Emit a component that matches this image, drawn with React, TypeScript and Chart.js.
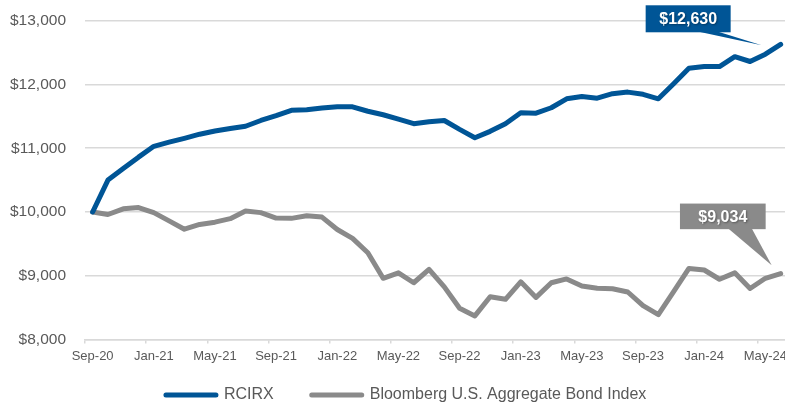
import React, { useEffect, useRef } from 'react';
import { Chart, registerables } from 'chart.js';

Chart.register(...registerables);

// ---- data ----
const months = [
  'Sep-20', 'Oct-20', 'Nov-20', 'Dec-20',
  'Jan-21', 'Feb-21', 'Mar-21', 'Apr-21', 'May-21', 'Jun-21', 'Jul-21', 'Aug-21', 'Sep-21', 'Oct-21', 'Nov-21', 'Dec-21',
  'Jan-22', 'Feb-22', 'Mar-22', 'Apr-22', 'May-22', 'Jun-22', 'Jul-22', 'Aug-22', 'Sep-22', 'Oct-22', 'Nov-22', 'Dec-22',
  'Jan-23', 'Feb-23', 'Mar-23', 'Apr-23', 'May-23', 'Jun-23', 'Jul-23', 'Aug-23', 'Sep-23', 'Oct-23', 'Nov-23', 'Dec-23',
  'Jan-24', 'Feb-24', 'Mar-24', 'Apr-24', 'May-24', 'Jun-24',
];

const rcirx = [
  10000, 10500, 10680, 10860,
  11030, 11095, 11155, 11220, 11270, 11310, 11345, 11435, 11510, 11595, 11605, 11630,
  11650, 11650, 11580, 11525, 11455, 11385, 11415, 11435, 11295, 11165, 11265, 11385,
  11555, 11550, 11635, 11775, 11810, 11785, 11855, 11880, 11845, 11775, 12010, 12255,
  12280, 12280, 12435, 12360, 12475, 12630,
];

const bloomberg = [
  10000, 9960, 10050, 10070,
  9990, 9860, 9730, 9805, 9840, 9895, 10015, 9990, 9905, 9900, 9940, 9920,
  9725, 9585, 9360, 8960, 9045, 8890, 9100, 8825, 8490, 8370, 8670, 8630,
  8905, 8660, 8890, 8950, 8840, 8805, 8795, 8745, 8530, 8390, 8750, 9115,
  9090, 8945, 9045, 8800, 8960, 9034,
];

const seriesNames = ['RCIRX', 'Bloomberg U.S. Aggregate Bond Index'];
const yMin = 8000;
const yMax = 13000;
const yStep = 1000;

// ---- styles ----
const BLUE = '#005596';
const GRAY = '#8a8a8a';
const GRID = '#d9d9d9';
const TEXT = '#595959';
const FONT = "'Liberation Sans', Arial, Helvetica, sans-serif";
const LEGEND_TOP = 349;
const LEGEND_LEFT_SHIFT = 24;

const fmtMoney = (v: number) => '$' + Math.round(v).toLocaleString('en-US');

const legendShiftPlugin = {
  id: 'legendShift',
  afterLayout(chart: any) {
    const lg = chart.legend;
    if (!lg) return;
    lg.top = LEGEND_TOP;
    lg.height = lg.bottom - lg.top;
    lg.left = lg.left + LEGEND_LEFT_SHIFT;
    lg.width = lg.right - lg.left;
  },
};

const calloutPlugin = {
  id: 'callouts',
  afterDatasetsDraw(chart: any, _args: any, opts: any) {
    const ctx = chart.ctx;
    (opts.items || []).forEach((c: any) => {
      const meta = chart.getDatasetMeta(c.datasetIndex);
      const ds = chart.data.datasets[c.datasetIndex];
      const pt = meta.data[meta.data.length - 1];
      if (!pt) return;
      const px = pt.x;
      const py = pt.y;
      const bx = px + c.box[0];
      const by = py + c.box[1];
      const bw = c.box[2];
      const bh = c.box[3];
      ctx.save();
      ctx.fillStyle = c.color;
      ctx.beginPath();
      ctx.moveTo(px + c.base[0], by + bh - 1);
      ctx.lineTo(px + c.base[1], by + bh - 1);
      ctx.lineTo(px + c.tip[0], py + c.tip[1]);
      ctx.closePath();
      ctx.fill();
      ctx.fillRect(bx, by, bw, bh);
      ctx.font = `bold 16px ${FONT}`;
      ctx.textAlign = 'center';
      ctx.textBaseline = 'middle';
      ctx.shadowColor = 'rgba(0,0,0,0.35)';
      ctx.shadowBlur = 2;
      ctx.shadowOffsetX = 1;
      ctx.shadowOffsetY = 1;
      ctx.fillStyle = '#ffffff';
      ctx.fillText(fmtMoney(ds.data[ds.data.length - 1]), bx + bw / 2, by + bh / 2 + 1);
      ctx.restore();
    });
  },
};

export default function App() {
  const ref = useRef<HTMLCanvasElement | null>(null);

  useEffect(() => {
    if (!ref.current) return;
    Chart.defaults.font.family = FONT;
    const chart = new Chart(ref.current, {
      type: 'line',
      data: {
        labels: months,
        datasets: [
          {
            label: seriesNames[0],
            data: rcirx,
            borderColor: BLUE,
            backgroundColor: BLUE,
            borderWidth: 5,
            pointRadius: 0,
            tension: 0,
            borderCapStyle: 'round',
            borderJoinStyle: 'round',
          },
          {
            label: seriesNames[1],
            data: bloomberg,
            borderColor: GRAY,
            backgroundColor: GRAY,
            borderWidth: 5,
            pointRadius: 0,
            tension: 0,
            borderCapStyle: 'round',
            borderJoinStyle: 'round',
          },
        ],
      },
      options: {
        responsive: false,
        animation: false,
        devicePixelRatio: 1,
        layout: { padding: { left: 0, right: 50.7, top: 20.7, bottom: 0 } },
        scales: {
          x: {
            type: 'category',
            offset: true,
            afterFit: (s: any) => { s.height = 25; },
            grid: {
              display: true,
              offset: true,
              drawOnChartArea: false,
              drawTicks: true,
              tickLength: 4,
              lineWidth: 1.5,
              tickColor: (c: any) => (c.index % 4 === 0 ? GRID : 'rgba(0,0,0,0)'),
              color: (c: any) => (c.index % 4 === 0 ? GRID : 'rgba(0,0,0,0)'),
            },
            border: { display: true, color: GRID, width: 1.5 },
            ticks: {
              autoSkip: false,
              maxRotation: 0,
              minRotation: 0,
              padding: 5,
              color: TEXT,
              font: { size: 13, family: FONT },
              callback: (_v: any, i: number) => (i % 4 === 0 ? months[i] : ''),
            },
          },
          y: {
            min: yMin,
            max: yMax,
            afterFit: (s: any) => {
              s.width = 85;
              s.paddingTop = 0;
              s.paddingBottom = 0;
            },
            grid: { color: GRID, lineWidth: 1.5, drawTicks: false },
            border: { display: false },
            ticks: {
              stepSize: yStep,
              padding: 19,
              color: TEXT,
              font: { size: 15.5, family: FONT },
              callback: (v: any) => fmtMoney(Number(v)),
            },
          },
        },
        plugins: {
          legend: {
            position: 'bottom',
            maxHeight: 41.5,
            labels: {
              boxWidth: 50,
              boxHeight: 0,
              padding: 38,
              color: TEXT,
              font: { size: 16, family: FONT },
            },
          },
          tooltip: { enabled: false },
          callouts: {
            items: [
              { datasetIndex: 0, color: BLUE, box: [-135, -39, 85, 27], base: [-84, -64], tip: [-19, 1] },
              { datasetIndex: 1, color: GRAY, box: [-100.7, -70, 85.7, 25.6], base: [-52.7, -29], tip: [-9, -8.4] },
            ],
          },
        } as any,
      },
      plugins: [calloutPlugin, legendShiftPlugin],
    } as any);
    return () => chart.destroy();
  }, []);

  return (
    <div style={{ position: 'fixed', left: 0, top: 0, width: 785, height: 406, overflow: 'hidden', background: '#fff' }}>
      <canvas ref={ref} width={839} height={406} style={{ display: 'block', width: 839, height: 406 }} />
    </div>
  );
}
